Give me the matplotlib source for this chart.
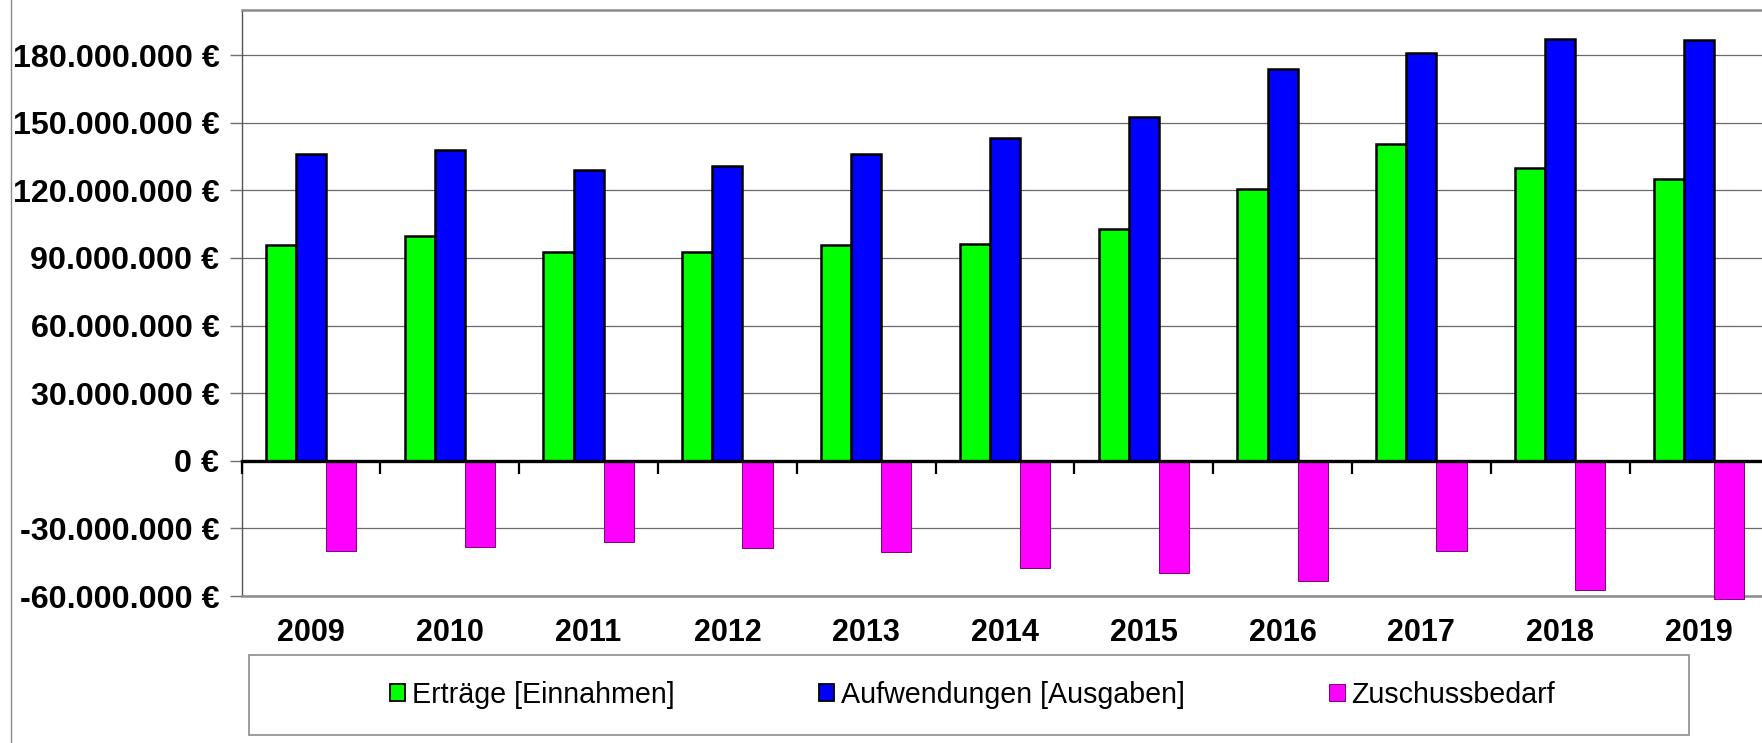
import matplotlib
matplotlib.use("Agg")
import matplotlib.pyplot as plt
from matplotlib.patches import Patch, Rectangle
from matplotlib.lines import Line2D
from matplotlib.ticker import FuncFormatter
import numpy as np

# ---- data (EUR) ----
years = ["2009", "2010", "2011", "2012", "2013", "2014", "2015", "2016", "2017", "2018", "2019"]
ertraege = [95.9e6, 99.8e6, 92.7e6, 92.7e6, 95.8e6, 96.2e6, 103.0e6, 120.8e6, 140.5e6, 129.7e6, 124.9e6]
aufwendungen = [135.9e6, 137.9e6, 128.8e6, 130.8e6, 136.0e6, 143.1e6, 152.7e6, 173.7e6, 180.7e6, 187.1e6, 186.6e6]
zuschuss = [-40.0e6, -38.2e6, -36.0e6, -38.5e6, -40.3e6, -47.4e6, -49.8e6, -53.2e6, -40.0e6, -57.3e6, -61.3e6]
series_labels = ["Erträge [Einnahmen]", "Aufwendungen [Ausgaben]", "Zuschussbedarf"]
y_ticks = [-60e6, -30e6, 0, 30e6, 60e6, 90e6, 120e6, 150e6, 180e6]
y_limits = (-60e6, 200e6)

colors = ["#00ff00", "#0000ff", "#ff00ff"]
edges = ["black", "black", "#7a007a"]
edge_w = [1.8, 1.8, 0.7]

plt.rcParams['font.family'] = ['Liberation Sans', 'DejaVu Sans']
plt.rcParams['font.weight'] = 'bold'

W, H = 1762, 743
fig = plt.figure(figsize=(W / 100, H / 100), dpi=100)
ax_left, ax_top, ax_bottom = 241.6, 10, 596
cat_w = 138.8
ax = fig.add_axes([ax_left / W, 1 - ax_bottom / H, 11 * cat_w / W, (ax_bottom - ax_top) / H])

x = np.arange(len(years))
bw = 0.217
for i, (vals, lab) in enumerate(zip([ertraege, aufwendungen, zuschuss], series_labels)):
    ax.bar(x + (i - 1) * bw, vals, bw, color=colors[i], edgecolor=edges[i],
           linewidth=edge_w[i], zorder=3, clip_on=False, label=lab)

ax.set_xlim(-0.5, len(years) - 0.5)
ax.set_ylim(*y_limits)
ax.set_yticks(y_ticks)
ax.yaxis.set_major_formatter(FuncFormatter(lambda v, p: f"{int(round(v)):,}".replace(",", ".") + " €"))
ax.yaxis.grid(True, color="#6a6a6a", linewidth=0.9, zorder=1)
ax.set_axisbelow(True)

ax.set_xticks(x)
ax.set_xticklabels(years)
ax.tick_params(axis='x', length=0, pad=16, labelsize=22, colors='black')
ax.tick_params(axis='y', length=9, width=1, color='#707070', pad=7, labelsize=23.2, labelcolor='black')

for s in ['top', 'bottom']:
    ax.spines[s].set_color('#8c8c8c')
    ax.spines[s].set_linewidth(1.8)
ax.spines['left'].set_color('#555555')
ax.spines['left'].set_linewidth(1.0)
ax.spines['right'].set_visible(False)

# zero axis with category-boundary ticks
zero_loc = (0 - y_limits[0]) / (y_limits[1] - y_limits[0])
sec = ax.secondary_xaxis(zero_loc)
sec.set_xticks(np.arange(-0.5, len(years), 1.0))
sec.tick_params(axis='x', direction='out', length=9, width=1.6, color='black', labelbottom=False, labeltop=False)
sec.spines['bottom'].set_color('black')
sec.spines['bottom'].set_linewidth(2.4)
sec.set_zorder(5)

# outer chart border line at left
fig.add_artist(Line2D([10.7 / W, 10.7 / W], [0, 1], transform=fig.transFigure, color='#8c8c8c', lw=1.0))

# legend
lx0, lx1, ly0, ly1 = 249.5, 1689, 655, 735
fig.add_artist(Rectangle((lx0 / W, 1 - ly1 / H), (lx1 - lx0) / W, (ly1 - ly0) / H,
                         transform=fig.transFigure, fill=False, ec='#8c8c8c', lw=1.2))
handles = [Patch(facecolor=colors[i], edgecolor=edges[i], linewidth=1.3 if i < 2 else 0.7) for i in range(3)]
fig.legend(handles, series_labels, loc='center', bbox_to_anchor=((lx0 + lx1) / 2 / W + 3 / W, 1 - (ly0 + ly1) / 2 / H),
           ncol=3, frameon=False, prop={'size': 20.6, 'weight': 'normal'},
           handlelength=0.55, handleheight=0.55, handletextpad=0.22, columnspacing=5.05)

fig.savefig("out.png", dpi=100)
